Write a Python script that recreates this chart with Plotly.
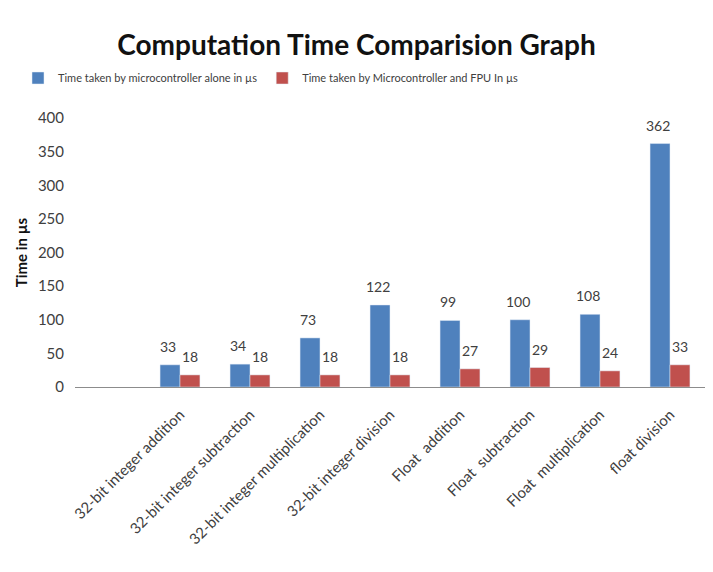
import plotly.graph_objects as go

# Operation categories (first slot left blank on the axis)
operations = [
    "32-bit integer addition",
    "32-bit integer subtraction",
    "32-bit integer multiplication",
    "32-bit integer division",
    "Float  addition",
    "Float  subtraction",
    "Float  multiplication",
    "float division",
]
positions = [1, 2, 3, 4, 5, 6, 7, 8]

mcu_alone = [33, 34, 73, 122, 99, 100, 108, 362]
mcu_fpu = [18, 18, 18, 18, 27, 29, 24, 33]

y_ticks = [0, 50, 100, 150, 200, 250, 300, 350, 400]

BLUE = "#4F81BD"
RED = "#C0504D"
TXT = "#404040"
FONT = "Lato"
BARGAP = 0.43

fig = go.Figure()
fig.add_trace(go.Bar(
    x=positions, y=mcu_alone,
    name="Time taken by microcontroller alone in µs",
    marker_color=BLUE,
))
fig.add_trace(go.Bar(
    x=positions, y=mcu_fpu,
    name="Time taken by Microcontroller and FPU In µs",
    marker_color=RED,
))

# Value labels sit a little above each bar, centred on its half of the group
half = (1 - BARGAP) / 4
annotations = []
for series, offset, dx in ((mcu_alone, -half, -2), (mcu_fpu, half, 0)):
    for pos, val in zip(positions, series):
        annotations.append(dict(
            x=pos + offset, y=val, xref="x", yref="y",
            text=str(val), showarrow=False,
            xanchor="center", yanchor="bottom", yshift=8, xshift=dx,
            font=dict(size=14, color=TXT, family=FONT),
        ))

fig.update_layout(
    width=713, height=572,
    margin=dict(l=75, r=8, t=118, b=185),
    paper_bgcolor="white", plot_bgcolor="white",
    barmode="group", bargap=BARGAP, bargroupgap=0,
    font=dict(family=FONT, color=TXT, size=12),
    title=dict(
        text="Computation Time Comparision Graph",
        x=0.5, xref="container", xanchor="center",
        y=1 - 45 / 572, yref="container", yanchor="middle",
        font=dict(family=FONT, size=28, color="#111111", weight="bold"),
    ),
    legend=dict(
        orientation="h",
        xref="container", yref="container",
        x=18 / 713, xanchor="left",
        y=1 - 78 / 572, yanchor="middle",
        font=dict(size=11, color=TXT, family=FONT),
        itemwidth=30, tracegroupgap=0,
    ),
    showlegend=True,
    annotations=annotations,
)

fig.update_xaxes(
    range=[-0.5, 8.5],
    tickmode="array", tickvals=positions, ticktext=operations,
    tickangle=-45, tickfont=dict(size=15, color=TXT, family=FONT),
    ticklabelstandoff=12,
    showline=True, linecolor="#8c8c8c", linewidth=1,
    showgrid=False, zeroline=False, ticks="",
)
fig.update_yaxes(
    range=[0, 400],
    tickmode="array", tickvals=y_ticks,
    tickfont=dict(size=15, color=TXT, family=FONT),
    ticklabelstandoff=10,
    showline=False, showgrid=False, zeroline=False, ticks="",
    title=dict(text="Time in µs", standoff=6,
               font=dict(size=15, color="#111111", family=FONT, weight="bold")),
)

fig.write_html("out.html")
